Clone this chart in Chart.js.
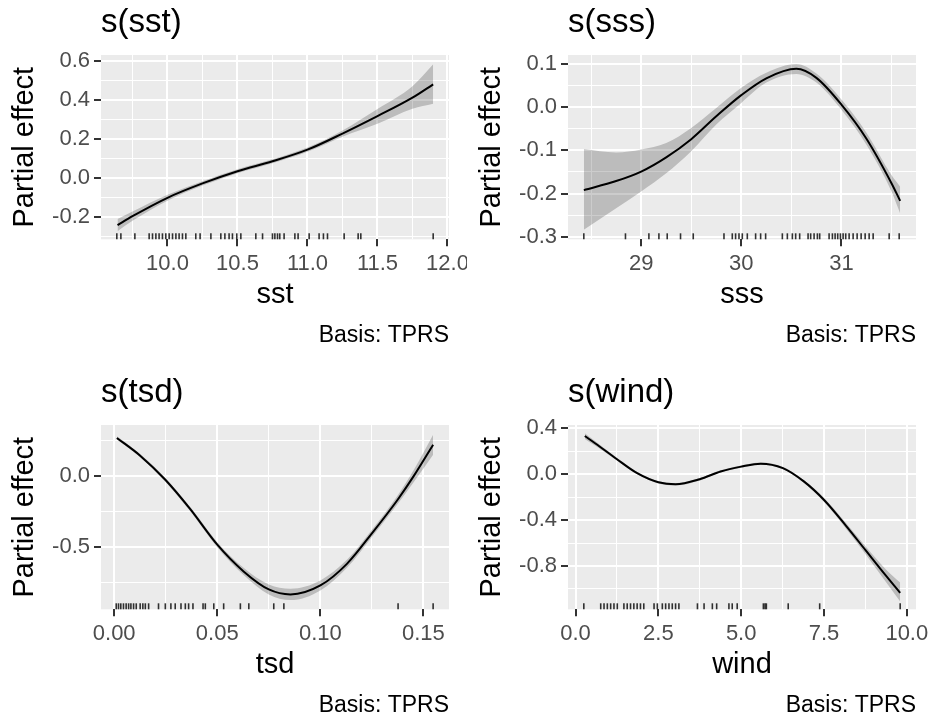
<!DOCTYPE html>
<html>
<head>
<meta charset="utf-8">
<title>Partial effects</title>
<script src="https://cdn.jsdelivr.net/npm/chart.js@4.4.1/dist/chart.umd.min.js"></script>
<style>
    html, body { margin: 0; padding: 0; background: #ffffff; overflow: hidden; }
    #wrap { position: relative; width: 934px; height: 721px; }
    #wrap canvas { position: absolute; }
</style>
</head>
<body>
<div id="wrap">
    <canvas id="sst" width="467" height="360" style="left:0px;top:0px"></canvas>
    <canvas id="sss" width="467" height="360" style="left:467px;top:0px"></canvas>
    <canvas id="tsd" width="467" height="360" style="left:0px;top:370px"></canvas>
    <canvas id="wind" width="467" height="360" style="left:467px;top:370px"></canvas>
</div>
<script>
// s(sst)
var sstX     = [9.643, 9.75, 10.0, 10.25, 10.5, 10.75, 11.0, 11.25, 11.5, 11.75, 11.898];
var sstFit   = [-0.244, -0.198, -0.103, -0.029, 0.034, 0.085, 0.145, 0.228, 0.318, 0.413, 0.482];
var sstLower = [-0.275, -0.222, -0.118, -0.040, 0.024, 0.075, 0.134, 0.212, 0.278, 0.356, 0.382];
var sstUpper = [-0.212, -0.174, -0.088, -0.018, 0.044, 0.095, 0.156, 0.244, 0.355, 0.472, 0.585];
var sstRug   = [9.638, 9.667, 9.767, 9.869, 9.893, 9.917, 9.940, 9.964, 9.988, 10.012, 10.036, 10.060,
                10.083, 10.107, 10.131, 10.202, 10.233, 10.310, 10.381, 10.410, 10.440, 10.464, 10.495,
                10.524, 10.631, 10.679, 10.750, 10.767, 10.786, 10.802, 10.833, 10.910, 10.933, 11.012,
                11.083, 11.114, 11.143, 11.262, 11.362, 11.381, 11.898];
var sstXLim    = [9.525, 12.011];
var sstXMajor  = [10.0, 10.5, 11.0, 11.5, 12.0];
var sstXLabels = ['10.0', '10.5', '11.0', '11.5', '12.0'];
var sstXMinor  = [9.75, 10.25, 10.75, 11.25, 11.75];
var sstYLim    = [-0.317, 0.633];
var sstYMajor  = [-0.2, 0.0, 0.2, 0.4, 0.6];
var sstYLabels = ['-0.2', '0.0', '0.2', '0.4', '0.6'];
var sstYMinor  = [-0.3, -0.1, 0.1, 0.3, 0.5];

// s(sss)
var sssX     = [28.427, 28.75, 29.0, 29.25, 29.5, 29.75, 30.0, 30.25, 30.55, 30.75, 31.0, 31.25, 31.5, 31.587];
var sssFit   = [-0.192, -0.171, -0.149, -0.116, -0.074, -0.021, 0.028, 0.067, 0.089, 0.068, 0.006, -0.073, -0.176, -0.217];
var sssLower = [-0.284, -0.234, -0.195, -0.153, -0.102, -0.040, 0.010, 0.057, 0.077, 0.057, -0.006, -0.087, -0.195, -0.246];
var sssUpper = [-0.097, -0.105, -0.098, -0.083, -0.048, -0.002, 0.045, 0.080, 0.100, 0.078, 0.018, -0.059, -0.157, -0.184];
var sssRug   = [28.427, 28.843, 29.077, 29.177, 29.26, 29.393, 29.52, 29.827, 29.91, 29.943, 29.977, 30.01,
                30.06, 30.143, 30.193, 30.243, 30.41, 30.46, 30.51, 30.543, 30.583, 30.667, 30.693, 30.727,
                30.76, 30.783, 30.877, 30.91, 30.937, 30.963, 30.99, 31.017, 31.043, 31.077, 31.117, 31.157,
                31.197, 31.237, 31.277, 31.317, 31.477, 31.577];
var sssXLim    = [28.269, 31.745];
var sssXMajor  = [29, 30, 31];
var sssXLabels = ['29', '30', '31'];
var sssXMinor  = [28.5, 29.5, 30.5, 31.5];
var sssYLim    = [-0.306, 0.121];
var sssYMajor  = [-0.3, -0.2, -0.1, 0.0, 0.1];
var sssYLabels = ['-0.3', '-0.2', '-0.1', '0.0', '0.1'];
var sssYMinor  = [-0.25, -0.15, -0.05, 0.05];

// s(tsd)
var tsdX     = [0.0013, 0.0126, 0.0248, 0.0369, 0.05, 0.0629, 0.075, 0.0855, 0.10, 0.113, 0.125, 0.1374, 0.1455, 0.1547];
var tsdFit   = [0.267, 0.142, -0.028, -0.235, -0.485, -0.675, -0.800, -0.835, -0.772, -0.618, -0.405, -0.170, 0.003, 0.219];
var tsdLower = [0.255, 0.130, -0.041, -0.250, -0.503, -0.700, -0.835, -0.875, -0.807, -0.646, -0.430, -0.200, -0.040, 0.149];
var tsdUpper = [0.279, 0.154, -0.015, -0.220, -0.467, -0.650, -0.765, -0.795, -0.737, -0.590, -0.380, -0.140, 0.046, 0.289];
var tsdRug   = [0.001, 0.0021, 0.0032, 0.0045, 0.0058, 0.007, 0.0081, 0.0094, 0.0107, 0.0126, 0.0139, 0.0151,
                0.0167, 0.0215, 0.0248, 0.0275, 0.0296, 0.0324, 0.0345, 0.0361, 0.0382, 0.0431, 0.0442,
                0.0483, 0.0531, 0.0612, 0.0653, 0.0774, 0.0823, 0.1377, 0.1547];
var tsdXLim    = [-0.0064, 0.1624];
var tsdXMajor  = [0.0, 0.05, 0.10, 0.15];
var tsdXLabels = ['0.00', '0.05', '0.10', '0.15'];
var tsdXMinor  = [0.025, 0.075, 0.125];
var tsdYLim    = [-0.94, 0.358];
var tsdYMajor  = [-0.5, 0.0];
var tsdYLabels = ['-0.5', '0.0'];
var tsdYMinor  = [-0.75, -0.25, 0.25];

// s(wind)
var windX     = [0.28, 0.6, 1.24, 1.86, 2.5, 3.02, 3.75, 4.38, 5.0, 5.59, 6.26, 6.9, 7.51, 8.16, 8.76, 9.37, 9.8];
var windFit   = [0.333, 0.268, 0.133, 0.009, -0.070, -0.088, -0.044, 0.024, 0.066, 0.092, 0.053, -0.065, -0.227, -0.448, -0.665, -0.885, -1.035];
var windLower = [0.308, 0.248, 0.121, -0.001, -0.080, -0.098, -0.054, 0.014, 0.056, 0.082, 0.043, -0.077, -0.245, -0.473, -0.700, -0.940, -1.110];
var windUpper = [0.358, 0.288, 0.145, 0.019, -0.060, -0.078, -0.034, 0.034, 0.076, 0.102, 0.063, -0.053, -0.209, -0.423, -0.630, -0.830, -0.945];
var windRug   = [0.25, 0.76, 0.86, 0.96, 1.06, 1.16, 1.26, 1.46, 1.56, 1.66, 1.76, 1.86, 1.96, 2.06, 2.37,
                 2.47, 2.62, 2.72, 2.82, 2.92, 3.02, 3.12, 3.68, 3.88, 4.13, 4.26, 4.63, 4.73, 4.88, 5.67,
                 5.72, 5.76, 6.42, 7.37, 9.80];
var windXLim    = [-0.2275, 10.2775];
var windXMajor  = [0.0, 2.5, 5.0, 7.5, 10.0];
var windXLabels = ['0.0', '2.5', '5.0', '7.5', '10.0'];
var windXMinor  = [1.25, 3.75, 6.25, 8.75];
var windYLim    = [-1.178, 0.429];
var windYMajor  = [-0.8, -0.4, 0.0, 0.4];
var windYLabels = ['-0.8', '-0.4', '0.0', '0.4'];
var windYMinor  = [-1.0, -0.6, -0.2, 0.2];


Chart.defaults.font.family = "'Liberation Sans', Arial, sans-serif";
Chart.defaults.animation = false;

function points(xs, ys) {
    return xs.map(function (x, i) { return {x: x, y: ys[i]}; });
}

function isMajor(list, v) {
    return list.indexOf(v) >= 0;
}

// grey panel behind the grid
var panelBackground = {
    id: 'panelBackground',
    beforeDraw: function (chart) {
        var a = chart.chartArea;
        var c = chart.ctx;
        c.save();
        c.fillStyle = '#EBEBEB';
        c.fillRect(a.left, a.top, a.right - a.left, a.bottom - a.top);
        c.restore();
    }
};

// rug of observations along the bottom of the panel
var rugPlugin = {
    id: 'rug',
    afterDatasetsDraw: function (chart, args, opts) {
        var xs = chart.scales.x;
        var a = chart.chartArea;
        var c = chart.ctx;
        c.save();
        c.strokeStyle = 'rgba(0,0,0,0.8)';
        c.lineWidth = 1.6;
        opts.values.forEach(function (v) {
            var px = xs.getPixelForValue(v);
            c.beginPath();
            c.moveTo(px, a.bottom);
            c.lineTo(px, a.bottom - 6);
            c.stroke();
        });
        c.restore();
    }
};

function axis(lim, major, labels, minor, title, horizontal) {
    var all = major.concat(minor).sort(function (a, b) { return a - b; });
    return {
        type: 'linear',
        min: lim[0],
        max: lim[1],
        afterBuildTicks: function (scale) {
            scale.ticks = all.map(function (v) { return {value: v}; });
        },
        afterFit: function (scale) {
            if (horizontal) {
                scale.height = 80.8;
                scale.paddingLeft = 0;
                scale.paddingRight = 0;
            } else {
                scale.width = 101;
                scale.paddingTop = 0;
                scale.paddingBottom = 0;
            }
        },
        border: { display: false },
        grid: {
            color: '#FFFFFF',
            lineWidth: function (c) { return isMajor(major, c.tick.value) ? 2 : 1; },
            tickLength: 7,
            tickWidth: 2,
            tickColor: function (c) { return isMajor(major, c.tick.value) ? '#333333' : 'rgba(0,0,0,0)'; }
        },
        ticks: {
            autoSkip: false,
            minRotation: 0,
            maxRotation: 0,
            padding: 4,
            color: '#4D4D4D',
            font: { size: 22 },
            callback: function (v) {
                var i = major.indexOf(v);
                return i < 0 ? '' : labels[i];
            }
        },
        title: {
            display: true,
            text: title,
            color: '#000000',
            font: { size: 29 },
            padding: horizontal ? {top: 0, bottom: 7.7} : {top: 8, bottom: 0}
        }
    };
}

function makePanel(id, p) {
    var ctx = document.getElementById(id).getContext('2d');
    return new Chart(ctx, {
        type: 'line',
        data: {
            datasets: [{
                    label: 'fit',
                    data: points(p.x, p.fit),
                    borderColor: '#000000',
                    borderWidth: 2,
                    fill: false
                },
                {
                    label: 'lower',
                    data: points(p.x, p.lower),
                    borderColor: 'rgba(0,0,0,0)',
                    borderWidth: 0,
                    fill: false
                },
                {
                    label: 'upper',
                    data: points(p.x, p.upper),
                    borderColor: 'rgba(0,0,0,0)',
                    borderWidth: 0,
                    backgroundColor: 'rgba(0,0,0,0.2)',
                    fill: '-1'
                }
            ]
        },
        options: {
            responsive: false,
            devicePixelRatio: 1,
            layout: { padding: {left: 0, right: 18, top: 0, bottom: 0} },
            elements: {
                point: { radius: 0, hoverRadius: 0 },
                line: { cubicInterpolationMode: 'monotone' }
            },
            scales: {
                x: axis(p.xLim, p.xMajor, p.xLabels, p.xMinor, p.name, true),
                y: axis(p.yLim, p.yMajor, p.yLabels, p.yMinor, 'Partial effect', false)
            },
            plugins: {
                legend: { display: false },
                tooltip: { enabled: false },
                title: {
                    display: true,
                    text: 's(' + p.name + ')',
                    align: 'start',
                    fullSize: false,
                    color: '#000000',
                    font: { size: 33, weight: 'normal' },
                    padding: {top: 2.8, bottom: 12.6}
                },
                subtitle: {
                    display: true,
                    text: 'Basis: TPRS',
                    position: 'bottom',
                    align: 'end',
                    fullSize: false,
                    color: '#000000',
                    font: { size: 23 },
                    padding: {top: 2.1, bottom: 10.2}
                },
                rug: { values: p.rug }
            }
        },
        plugins: [panelBackground, rugPlugin]
    });
}

makePanel('sst', {
    name: 'sst', x: sstX, fit: sstFit, lower: sstLower, upper: sstUpper, rug: sstRug,
    xLim: sstXLim, xMajor: sstXMajor, xLabels: sstXLabels, xMinor: sstXMinor,
    yLim: sstYLim, yMajor: sstYMajor, yLabels: sstYLabels, yMinor: sstYMinor
});
makePanel('sss', {
    name: 'sss', x: sssX, fit: sssFit, lower: sssLower, upper: sssUpper, rug: sssRug,
    xLim: sssXLim, xMajor: sssXMajor, xLabels: sssXLabels, xMinor: sssXMinor,
    yLim: sssYLim, yMajor: sssYMajor, yLabels: sssYLabels, yMinor: sssYMinor
});
makePanel('tsd', {
    name: 'tsd', x: tsdX, fit: tsdFit, lower: tsdLower, upper: tsdUpper, rug: tsdRug,
    xLim: tsdXLim, xMajor: tsdXMajor, xLabels: tsdXLabels, xMinor: tsdXMinor,
    yLim: tsdYLim, yMajor: tsdYMajor, yLabels: tsdYLabels, yMinor: tsdYMinor
});
makePanel('wind', {
    name: 'wind', x: windX, fit: windFit, lower: windLower, upper: windUpper, rug: windRug,
    xLim: windXLim, xMajor: windXMajor, xLabels: windXLabels, xMinor: windXMinor,
    yLim: windYLim, yMajor: windYMajor, yLabels: windYLabels, yMinor: windYMinor
});
</script>
</body>
</html>
